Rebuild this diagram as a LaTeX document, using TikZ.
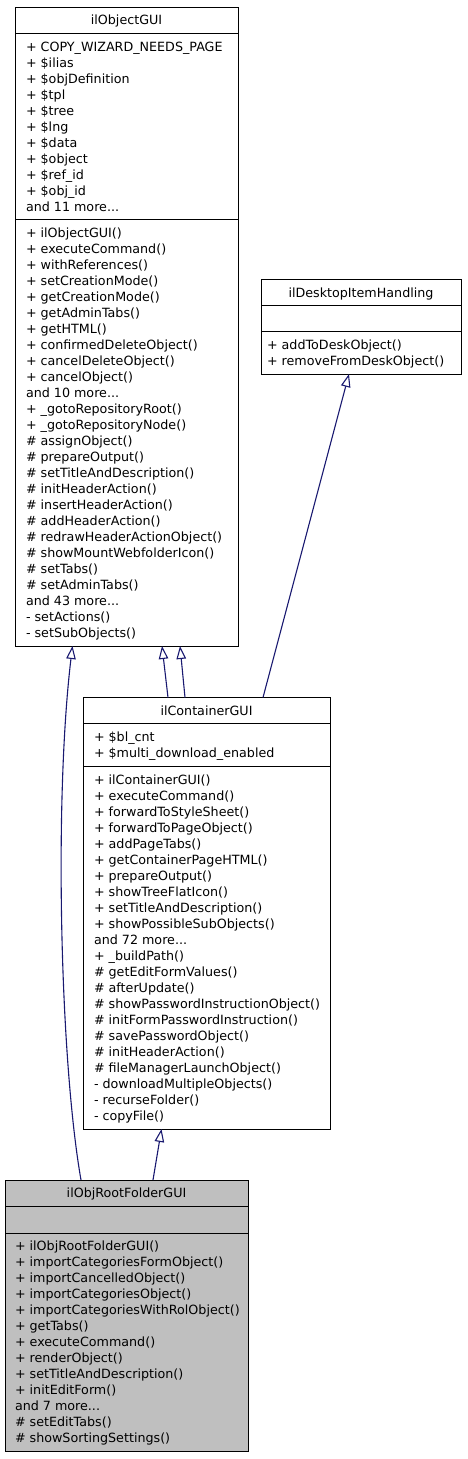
\documentclass[tikz,border=0pt]{standalone}
\usepackage{fontspec}
\setmainfont{DejaVu Sans}
\newfontfamily\dvfont{DejaVu Sans}
\usetikzlibrary{arrows.meta,calc}
\definecolor{edgeblue}{HTML}{191970}
\definecolor{rootgray}{HTML}{BFBFBF}
\newcommand{\mdots}{...}
\tikzset{
  clsbox/.style={draw=black, line width=1pt, fill=white, inner sep=0pt, outer sep=0pt, anchor=north west},
  sepline/.style={draw=black, line width=1pt},
  txt/.style={inner sep=0pt, outer sep=0pt, anchor=base west, font=\dvfont\fontsize{12.7}{16}\selectfont},
  ttl/.style={txt, anchor=base},
  inh/.style={draw=edgeblue, line width=1.1pt, -{Triangle[open, length=13pt, width=9.5pt, fill=white]}}
}
\begin{document}
\begin{tikzpicture}[x=1pt,y=-1pt]
\useasboundingbox (0,0) rectangle (467,1459);

% ---------- ilObjectGUI ----------
\node[clsbox, minimum width=223pt, minimum height=639pt] (objgui) at (15,7) {};
\draw[sepline] (15,33) -- (238,33);
\draw[sepline] (15,219.5) -- (238,219.5);
\node[ttl] (objgui-title) at (126.5,24.6) {ilObjectGUI};
\foreach \t [count=\i from 0] in {+ COPY\_WIZARD\_NEEDS\_PAGE, + \$ilias, + \$objDefinition, + \$tpl, + \$tree, + \$lng, + \$data, + \$object, + \$ref\_id, + \$obj\_id, and 11 more\mdots}
  \node[txt] (oga\i) at (26,51.2+16*\i) {\t};
\foreach \t [count=\i from 0] in {+ ilObjectGUI(), + executeCommand(), + withReferences(), + setCreationMode(), + getCreationMode(), + getAdminTabs(), + getHTML(), + confirmedDeleteObject(), + cancelDeleteObject(), + cancelObject(), and 10 more\mdots, + \_gotoRepositoryRoot(), + \_gotoRepositoryNode(), \# assignObject(), \# prepareOutput(), \# setTitleAndDescription(), \# initHeaderAction(), \# insertHeaderAction(), \# addHeaderAction(), \# redrawHeaderActionObject(), \# showMountWebfolderIcon(), \# setTabs(), \# setAdminTabs(), and 43 more\mdots, - setActions(), - setSubObjects()}
  \node[txt] (ogm\i) at (26,237.5+16*\i) {\t};

% ---------- ilDesktopItemHandling ----------
\node[clsbox, minimum width=200pt, minimum height=95pt] (desk) at (261,279) {};
\draw[sepline] (261,305) -- (461,305);
\draw[sepline] (261,331.5) -- (461,331.5);
\node[ttl] (desk-title) at (361,297) {ilDesktopItemHandling};
\foreach \t [count=\i from 0] in {+ addToDeskObject(), + removeFromDeskObject()}
  \node[txt] (dm\i) at (267,349+16*\i) {\t};

% ---------- ilContainerGUI ----------
\node[clsbox, minimum width=247pt, minimum height=431.5pt] (cont) at (83,697.5) {};
\draw[sepline] (83,723.3) -- (330,723.3);
\draw[sepline] (83,766.5) -- (330,766.5);
\node[ttl] (cont-title) at (206.5,715) {ilContainerGUI};
\foreach \t [count=\i from 0] in {+ \$bl\_cnt, + \$multi\_download\_enabled}
  \node[txt] (ca\i) at (94,741.2+16*\i) {\t};
\foreach \t [count=\i from 0] in {+ ilContainerGUI(), + executeCommand(), + forwardToStyleSheet(), + forwardToPageObject(), + addPageTabs(), + getContainerPageHTML(), + prepareOutput(), + showTreeFlatIcon(), + setTitleAndDescription(), + showPossibleSubObjects(), and 72 more\mdots, + \_buildPath(), \# getEditFormValues(), \# afterUpdate(), \# showPasswordInstructionObject(), \# initFormPasswordInstruction(), \# savePasswordObject(), \# initHeaderAction(), \# fileManagerLaunchObject(), - downloadMultipleObjects(), - recurseFolder(), - copyFile()}
  \node[txt] (cm\i) at (94,784.5+16*\i) {\t};

% ---------- ilObjRootFolderGUI ----------
\node[clsbox, fill=rootgray, minimum width=243pt, minimum height=271.5pt] (root) at (5,1180) {};
\draw[sepline] (5,1206.7) -- (248,1206.7);
\draw[sepline] (5,1233.3) -- (248,1233.3);
\node[ttl] (root-title) at (126.5,1197.8) {ilObjRootFolderGUI};
\foreach \t [count=\i from 0] in {+ ilObjRootFolderGUI(), + importCategoriesFormObject(), + importCancelledObject(), + importCategoriesObject(), + importCategoriesWithRolObject(), + getTabs(), + executeCommand(), + renderObject(), + setTitleAndDescription(), + initEditForm(), and 7 more\mdots, \# setEditTabs(), \# showSortingSettings()}
  \node[txt] (rm\i) at (15,1250.5+16*\i) {\t};

% ---------- inheritance connectors ----------
\draw[inh] ($(root.north west)+(76,0)$) .. controls ($(root.north west)+(55,-120)$) and ($(objgui.south west)+(39,154)$) .. ($(objgui.south west)+(57.5,0)$);
\draw[inh] ($(root.north west)+(148,0)$) -- ($(cont.south west)+(78.5,0)$);
\draw[inh] ($(cont.north west)+(85,0)$) -- ($(objgui.south west)+(147,0)$);
\draw[inh] ($(cont.north west)+(102,0)$) -- ($(objgui.south west)+(165,0)$);
\draw[inh] ($(cont.north west)+(180,0)$) -- ($(desk.south west)+(88,0)$);
\end{tikzpicture}
\end{document}
